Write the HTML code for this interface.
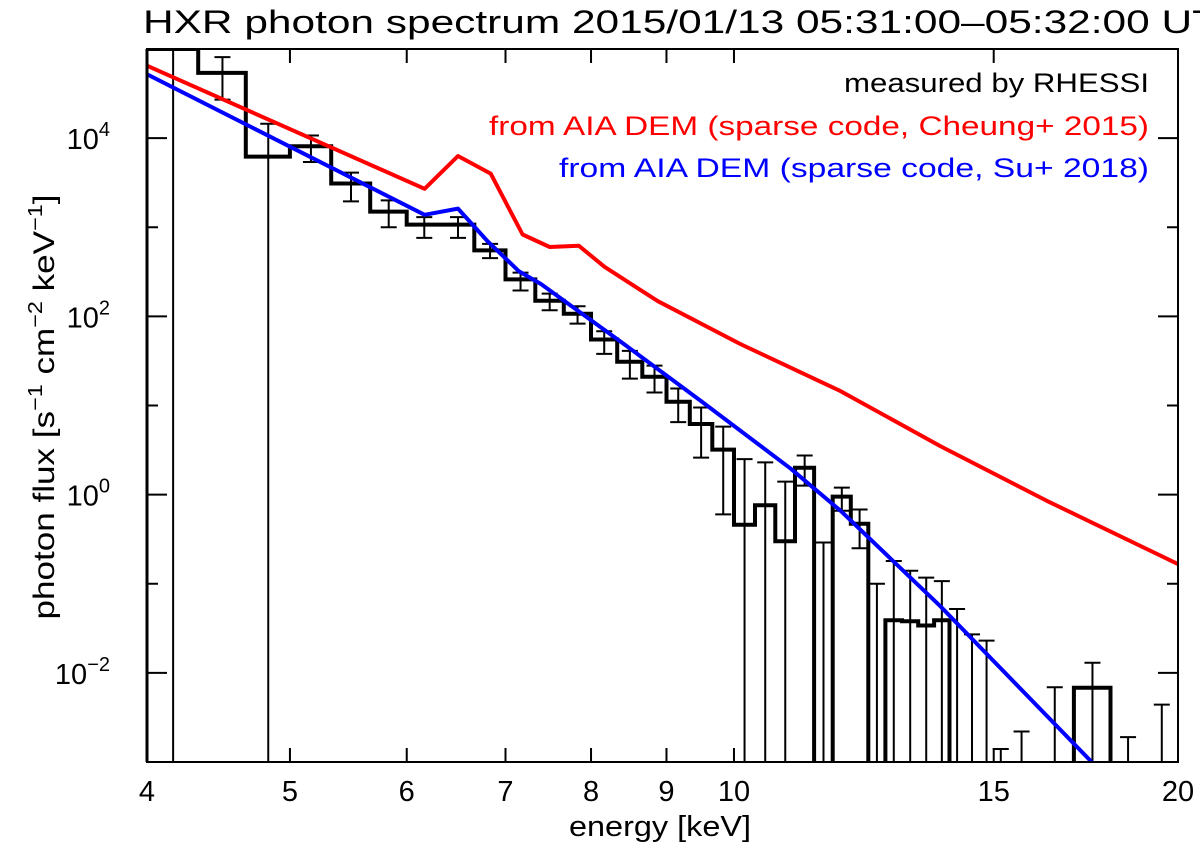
<!DOCTYPE html>
<html><head><meta charset="utf-8"><style>
html,body{margin:0;padding:0;background:#fff;}
svg{display:block;font-family:"Liberation Sans","DejaVu Sans",sans-serif;}
</style></head><body>
<svg id="chart" width="1200" height="850" viewBox="0 0 1200 850" xmlns="http://www.w3.org/2000/svg">
<rect width="1200" height="850" fill="#fff"/>
<text x="143" y="33" font-size="32" textLength="1075" lengthAdjust="spacingAndGlyphs">HXR photon spectrum 2015/01/13 05:31:00–05:32:00 UT</text>
<defs><clipPath id="plotclip"><rect x="147" y="49" width="1031" height="713"/></clipPath></defs>
<g id="ticks"></g>
<g id="series" clip-path="url(#plotclip)"></g>
<rect x="147" y="49" width="1031" height="713" fill="none" stroke="#000" stroke-width="2"/>
<line x1="147" y1="49" x2="147" y2="762" stroke="#000" stroke-width="3"/>
<g id="legend">
<text x="1149" y="92" font-size="27" text-anchor="end" fill="#000" textLength="305" lengthAdjust="spacingAndGlyphs">measured by RHESSI</text>
<text x="1149" y="135" font-size="27" text-anchor="end" fill="#ff0000" textLength="660" lengthAdjust="spacingAndGlyphs">from AIA DEM (sparse code, Cheung+ 2015)</text>
<text x="1149" y="177" font-size="27" text-anchor="end" fill="#0000ff" textLength="590" lengthAdjust="spacingAndGlyphs">from AIA DEM (sparse code, Su+ 2018)</text>
</g>
<text x="660" y="836" font-size="29" text-anchor="middle" textLength="182" lengthAdjust="spacingAndGlyphs">energy [keV]</text>
<text transform="translate(54,407) rotate(-90)" font-size="30" text-anchor="middle" textLength="425" lengthAdjust="spacingAndGlyphs">photon flux [s<tspan font-size="20" dy="-12">−1</tspan><tspan dy="12"> cm</tspan><tspan font-size="20" dy="-12">−2</tspan><tspan dy="12"> keV</tspan><tspan font-size="20" dy="-12">−1</tspan><tspan dy="12">]</tspan></text>
</svg>
<script>
const binEdges=[4,4.333,4.667,5,5.333,5.667,6,6.333,6.667,7,7.333,7.667,8,8.333,8.667,9,9.333,9.667,10,10.333,10.667,11,11.333,11.667,12,12.333,12.667,13,13.333,13.667,14,14.333,14.667,15,15.333,16,17,18,19,20];
const measFlux=[1.0e5,5.4e4,6.2e3,8.1e3,3.1e3,1.5e3,1.07e3,1.07e3,5.5e2,2.6e2,1.5e2,1.07e2,55,31,21,11,6.2,3.2,0.46,0.76,0.30,2.0,0,0.95,0.47,0,0.039,0.038,0.034,0.039,0,0,0,0,0,0,0.0068,0,0];
const errHigh=[2e5,8.1e4,1.45e4,1.07e4,4.1e3,2.0e3,1.3e3,1.3e3,6.5e2,3.1e2,1.8e2,1.3e2,68,41,28,15.5,9.5,5.8,2.5,2.3,1.4,2.75,0.29,1.2,0.68,0.10,0.18,0.14,0.117,0.107,0.052,0.027,0.023,0.0014,0.0022,0.0069,0.013,0.0019,0.0044];
const errLow=[0,2.7e4,0,5.4e3,1.95e3,1.0e3,7.6e2,7.6e2,4.5e2,1.95e2,1.17e2,83,38,20,14,6.5,2.6,0.6,0,0,0,1.26,0,0.66,0.25,0,0,0,0,0,0,0,0,0,0,0,0,0,0];
const cheungE=[4.0,6.17,6.50,6.84,7.19,7.50,7.85,8.17,8.88,10.10,11.81,13.80,16.30,20.0];
const cheungF=[6.5e4,2.7e3,6.3e3,4.0e3,8.3e2,6.0e2,6.2e2,3.6e2,1.48e2,49,14.5,3.5,0.85,0.166];
const suE=[4.0,6.17,6.50,6.81,7.15,7.40,8.38,9.50,10.93,11.81,13.80,17.48];
const suF=[5.2e4,1.38e3,1.62e3,6.9e2,3.2e2,2.3e2,52,11.2,1.95,0.66,0.056,0.001];
const xTickVals=[4,5,6,7,8,9,10,15,20];
const xTickLabels=["4","5","6","7","8","9","10","15","20"];
const yMajorExp=[4,2,0,-2];
const yMinorExp=[3,1,-1];

const X0=147,X1=1178,Y0=49,Y1=762,EMIN=4,EMAX=20,LMIN=-3,LMAX=5;
const NS="http://www.w3.org/2000/svg";
function xs(e){return X0+(Math.log10(e)-Math.log10(EMIN))/(Math.log10(EMAX)-Math.log10(EMIN))*(X1-X0);}
function ys(f){let l=f>0?Math.log10(f):LMIN-1;l=Math.max(LMIN-0.05,Math.min(LMAX+0.05,l));return Y1-(l-LMIN)/(LMAX-LMIN)*(Y1-Y0);}
function mk(tag,attrs,parent){const el=document.createElementNS(NS,tag);for(const k in attrs)el.setAttribute(k,attrs[k]);parent.appendChild(el);return el;}
const ticks=document.getElementById('ticks');
const series=document.getElementById('series');

xTickVals.forEach((v,i)=>{
  const x=xs(v);
  const t1=mk('line',{x1:x,y1:Y1,x2:x,y2:Y1-14,stroke:'#000','stroke-width':2},ticks);
  
  
  const t2=mk('line',{x1:x,y1:Y0,x2:x,y2:Y0+14,stroke:'#000','stroke-width':2},ticks);
  
  
  const lb=mk('text',{x:x,y:801,'font-size':29,'text-anchor':'middle'},ticks);
  lb.textContent=xTickLabels[i];
  
  
});
yMajorExp.forEach(p=>{
  const y=ys(Math.pow(10,p));
  const a=mk('line',{x1:X0,y1:y,x2:X0+20,y2:y,stroke:'#000','stroke-width':2},ticks);
  
  
  const b=mk('line',{x1:X1,y1:y,x2:X1-20,y2:y,stroke:'#000','stroke-width':2},ticks);
  
  
  const lb=mk('text',{x:110,y:y+11,'font-size':29,'text-anchor':'end'},ticks);
  
  
  const base=document.createElementNS(NS,'tspan');base.textContent='10';lb.appendChild(base);
  const sup=document.createElementNS(NS,'tspan');sup.setAttribute('font-size','20');sup.setAttribute('dy','-13');
  sup.textContent=p<0?'−'+(-p):String(p);lb.appendChild(sup);
});
yMinorExp.forEach(p=>{
  const y=ys(Math.pow(10,p));
  const a=mk('line',{x1:X0,y1:y,x2:X0+11,y2:y,stroke:'#000','stroke-width':2},ticks);
  
  
  const b=mk('line',{x1:X1,y1:y,x2:X1-11,y2:y,stroke:'#000','stroke-width':2},ticks);
  
  
});

measFlux.forEach((f,i)=>{
  const c=(binEdges[i]+binEdges[i+1])/2, x=xs(c);
  const yh=ys(errHigh[i]), yl=ys(errLow[i]);
  const g=mk('g',{},series);
  
  
  mk('line',{x1:x,y1:yh,x2:x,y2:yl,stroke:'#000','stroke-width':2},g);
  if(yh>Y0+2) mk('line',{x1:x-8,y1:yh,x2:x+8,y2:yh,stroke:'#000','stroke-width':2},g);
  if(yl<Y1-2) mk('line',{x1:x-8,y1:yl,x2:x+8,y2:yl,stroke:'#000','stroke-width':2},g);
});
let d='';
measFlux.forEach((f,i)=>{
  const xa=xs(binEdges[i]),xb=xs(binEdges[i+1]),y=ys(f);
  d+=(i===0?'M':'L')+xa.toFixed(1)+','+y.toFixed(1)+'L'+xb.toFixed(1)+','+y.toFixed(1);
});
const hist=mk('path',{d:d,fill:'none',stroke:'#000','stroke-width':4,'stroke-linejoin':'miter'},series);



function line(E,F,color,name){
  const pts=E.map((e,i)=>xs(e).toFixed(1)+','+ys(F[i]).toFixed(1)).join(' ');
  const pl=mk('polyline',{points:pts,fill:'none',stroke:color,'stroke-width':4,'stroke-linejoin':'round'},series);
  
  
}
line(cheungE,cheungF,'#ff0000','cheung-2015-line');
line(suE,suF,'#0000ff','su-2018-line');
</script>
</body></html>
